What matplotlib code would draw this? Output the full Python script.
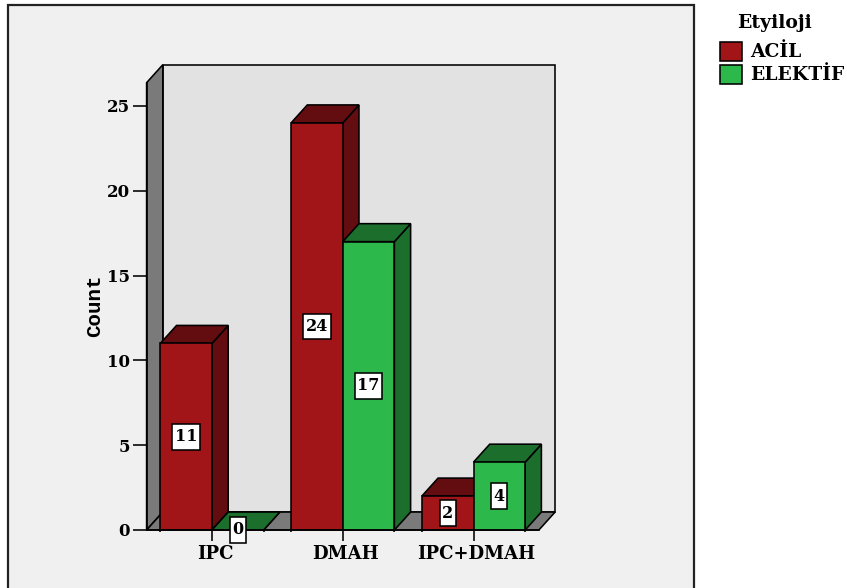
import matplotlib
matplotlib.use("Agg")
import matplotlib.pyplot as plt
from matplotlib.path import Path
from matplotlib.patches import Polygon, Rectangle
from matplotlib.transforms import ScaledTranslation

categories = ["IPC", "DMAH", "IPC+DMAH"]
series_names = ["ACİL", "ELEKTİF"]
acil_counts = [11, 24, 2]
elektif_counts = [0, 17, 4]
y_ticks = [0, 5, 10, 15, 20, 25]

W, H = 847, 588
RED, RED_DARK = "#A11519", "#640D10"
GREEN, GREEN_DARK = "#2DB84B", "#1C6E2D"
WALL, SIDE = "#E2E2E2", "#7A7A7A"
PANEL = "#F0F0F0"
SERIF = "DejaVu Serif"
LW = 1.15

BAR_W = 0.395
DEPTH_X = 0.124   # oblique depth of the 3D box, in category units
DEPTH_Y = 1.06    # oblique depth of the 3D box, in count units
Y_MAX = 26.37
X_MIN, X_MAX = -0.5, 2.5


def tall_box(x0, y0, width, height, mutation_size):
    """Square label box with more padding above and below than at the sides."""
    px, py = 0.16 * mutation_size, 0.27 * mutation_size
    x1, y1 = x0 + width + px, y0 + height + py
    x0, y0 = x0 - px, y0 - py
    return Path([(x0, y0), (x1, y0), (x1, y1), (x0, y1), (x0, y0)], closed=True)


fig = plt.figure(figsize=(W / 100, H / 100), dpi=100, facecolor="white")

# page layer in pixel units: grey panel with its frame, and the legend
page = fig.add_axes([0, 0, 1, 1], zorder=0)
page.set_xlim(0, W)
page.set_ylim(H, 0)
page.axis("off")
page.add_patch(Rectangle((8, 4.5), 686, H, facecolor=PANEL, edgecolor="#222222", lw=1.6, clip_on=False))

page.text(774, 23, "Etyiloji", family=SERIF, weight="bold", fontsize=13.5, ha="center", va="center")
for name, colour, top in zip(series_names, [RED, GREEN], [42, 65]):
    page.add_patch(Rectangle((720, top), 22, 19, facecolor=colour, edgecolor="black", lw=LW))
    page.text(750, top + 10, name, family=SERIF, weight="bold", fontsize=13.5, ha="left", va="center")

# plot layer in category/count units
ax = fig.add_axes([146.6 / W, 1 - 530 / H, 392.3 / W, (530 - 82.7) / H], zorder=1)
ax.set_xlim(X_MIN, X_MAX)
ax.set_ylim(0, Y_MAX)
ax.patch.set_visible(False)
for s in ("top", "right"):
    ax.spines[s].set_visible(False)
for s in ("left", "bottom"):
    ax.spines[s].set_linewidth(LW)


def face(points, colour):
    ax.add_patch(Polygon(points, closed=True, facecolor=colour, edgecolor="black",
                         lw=LW, joinstyle="miter", clip_on=False))


# back wall, left wall and floor of the box
face([(X_MIN + DEPTH_X, DEPTH_Y), (X_MAX + DEPTH_X, DEPTH_Y),
      (X_MAX + DEPTH_X, Y_MAX + DEPTH_Y), (X_MIN + DEPTH_X, Y_MAX + DEPTH_Y)], WALL)
face([(X_MIN, 0), (X_MIN + DEPTH_X, DEPTH_Y), (X_MIN + DEPTH_X, Y_MAX + DEPTH_Y), (X_MIN, Y_MAX)], SIDE)
face([(X_MIN, 0), (X_MAX, 0), (X_MAX + DEPTH_X, DEPTH_Y), (X_MIN + DEPTH_X, DEPTH_Y)], SIDE)


def box(left, value, front, dark):
    right = left + BAR_W
    face([(right, 0), (right + DEPTH_X, DEPTH_Y), (right + DEPTH_X, value + DEPTH_Y), (right, value)], dark)
    face([(left, value), (right, value), (right + DEPTH_X, value + DEPTH_Y), (left + DEPTH_X, value + DEPTH_Y)], dark)
    face([(left, 0), (right, 0), (right, value), (left, value)], front)
    ax.text(left + BAR_W / 2, value / 2, str(value), family=SERIF, weight="bold", fontsize=11.5,
            ha="center", va="center", zorder=6, clip_on=False,
            bbox=dict(boxstyle=tall_box, facecolor="white", edgecolor="black", lw=LW))


for i, (a, e) in enumerate(zip(acil_counts, elektif_counts)):
    box(i - BAR_W, a, RED, RED_DARK)
    box(i, e, GREEN, GREEN_DARK)

ax.set_yticks(y_ticks)
ax.set_yticklabels([str(t) for t in y_ticks], family=SERIF, weight="bold", fontsize=12)
ax.tick_params(axis="y", length=10, width=LW, pad=2)

ax.set_xticks(range(len(categories)))
ax.set_xticklabels(categories, family=SERIF, weight="bold", fontsize=13)
ax.tick_params(axis="x", which="major", length=8, width=LW, pad=3)
ax.set_xticks([c + d for c in range(len(categories)) for d in (-BAR_W, BAR_W)], minor=True)
ax.tick_params(axis="x", which="minor", length=1.5, width=LW)
shift = ScaledTranslation(3 / 100, 0, fig.dpi_scale_trans)
for label in ax.get_xticklabels():
    label.set_transform(label.get_transform() + shift)

page.text(95, 306, "Count", family="Liberation Mono", weight="bold", fontsize=15,
          rotation=90, ha="center", va="center")

fig.savefig("out.png", dpi=100, facecolor="white")
